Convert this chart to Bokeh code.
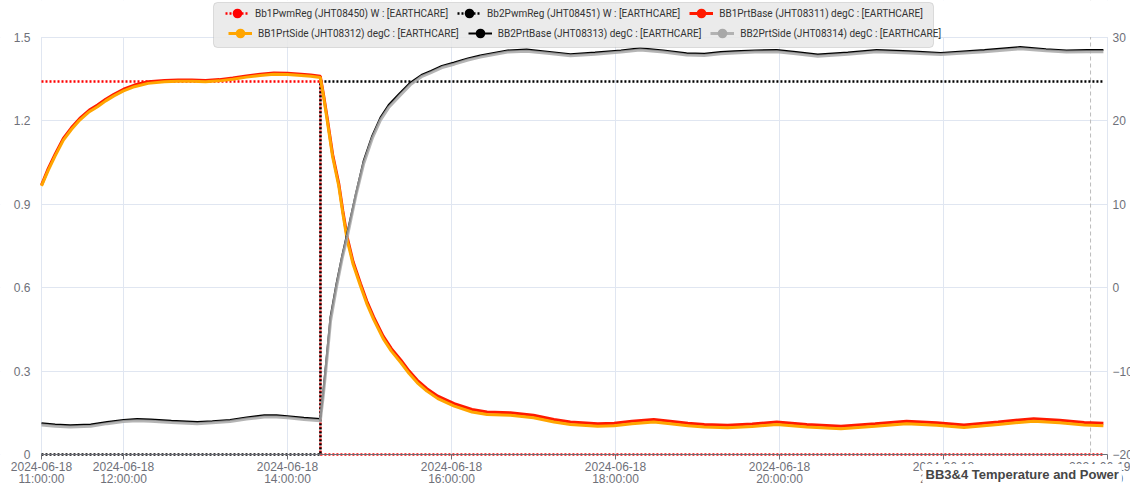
import pandas as pd
from bokeh.plotting import figure
from bokeh.models import (Range1d, LinearAxis, FixedTicker, Legend, LegendItem,
                          BoxAnnotation, Label, Span)
from bokeh.embed import file_html
from bokeh.resources import INLINE

# ---------------- data (minutes after 2024-06-18 11:00:00) ----------------
start = pd.Timestamp("2024-06-18 11:00:00")
axis_end = pd.Timestamp("2024-06-19 00:00:00")

pwm_t = [0, 204.1, 204.1, 777]
bb1_pwm = [1.342, 1.342, 0, 0]
bb2_pwm = [0, 0, 1.342, 1.342]

t_bb1 = [0, 5, 10, 16, 22, 28, 35, 41, 47, 53, 60, 68, 78, 90, 100, 110, 120, 130,
         140, 150, 160, 170, 180, 190, 197, 204, 206.5, 209, 213, 217.5, 220.5, 223.7,
         228, 233.4, 238, 243, 250, 256, 263, 269, 275, 282, 290, 302, 315, 326, 343,
         360, 375, 387, 407, 419, 432, 448, 460, 473, 485, 502, 520, 538, 560, 585,
         610, 633, 655, 675, 700, 726, 745, 763, 777]
bb1_base = [12.3, 14.3, 16.0, 17.9, 19.2, 20.3, 21.3, 21.9, 22.6, 23.2, 23.8, 24.3,
            24.7, 24.85, 24.9, 24.9, 24.85, 24.95, 25.15, 25.4, 25.6, 25.75, 25.7, 25.6,
            25.5, 25.35, 23.0, 20.4, 16.0, 12.5, 9.2, 6.05, 3.1, 0.5, -1.6, -3.5, -5.8,
            -7.3, -8.7, -10.0, -11.1, -12.1, -13.0, -13.9, -14.6, -14.9, -15.0, -15.3,
            -15.8, -16.1, -16.3, -16.25, -16.0, -15.8, -16.0, -16.25, -16.4, -16.5,
            -16.35, -16.1, -16.4, -16.6, -16.3, -16.0, -16.2, -16.45, -16.1, -15.7,
            -15.9, -16.15, -16.25]
bb1_side = [12.2, 14.1, 15.8, 17.7, 19.0, 20.1, 21.1, 21.7, 22.4, 23.0, 23.6, 24.1,
            24.5, 24.7, 24.75, 24.75, 24.7, 24.8, 25.0, 25.25, 25.45, 25.6, 25.55, 25.45,
            25.35, 25.2, 22.8, 20.1, 15.7, 12.2, 8.9, 5.7, 2.8, 0.2, -1.9, -3.8, -6.1,
            -7.6, -9.0, -10.3, -11.4, -12.4, -13.3, -14.2, -14.9, -15.2, -15.3, -15.6,
            -16.1, -16.4, -16.6, -16.55, -16.3, -16.1, -16.3, -16.55, -16.7, -16.8,
            -16.65, -16.4, -16.7, -16.9, -16.6, -16.3, -16.5, -16.75, -16.4, -16.0,
            -16.2, -16.45, -16.55]

t_bb2 = [0, 10, 21, 36, 48, 60, 70, 80, 95, 114, 125, 138, 150, 163, 172, 180, 192,
         204, 206, 208, 211.5, 216, 220, 223.7, 230, 235.8, 242, 248, 254, 258, 262,
         270, 278, 285, 293, 302, 312, 321, 331, 341, 355, 370, 387, 405, 424, 438,
         455, 472, 485, 497, 507, 522, 538, 552, 568, 590, 611, 635, 658, 690, 716,
         735, 750, 765, 777]
bb2_base = [-16.25, -16.4, -16.5, -16.4, -16.1, -15.85, -15.75, -15.8, -15.95, -16.1,
            -16.0, -15.85, -15.55, -15.3, -15.3, -15.4, -15.6, -15.75, -12.8, -9.5,
            -3.5, 0.6, 3.8, 6.5, 11.2, 15.25, 18.2, 20.4, 21.9, 22.6, 23.3, 24.6, 25.5,
            26.0, 26.6, 27.0, 27.5, 27.85, 28.15, 28.45, 28.55, 28.3, 28.0, 28.2, 28.45,
            28.7, 28.45, 28.1, 28.05, 28.25, 28.35, 28.45, 28.5, 28.25, 27.95, 28.2,
            28.5, 28.35, 28.15, 28.5, 28.85, 28.6, 28.45, 28.5, 28.5]
bb2_side = [-16.45, -16.6, -16.7, -16.6, -16.3, -16.05, -15.95, -16.0, -16.15, -16.3,
            -16.2, -16.05, -15.75, -15.5, -15.5, -15.6, -15.8, -15.95, -13.2, -10.0,
            -4.0, 0.2, 3.5, 6.1, 11.0, 14.9, 17.9, 20.1, 21.6, 22.3, 23.0, 24.35, 25.3,
            25.8, 26.4, 26.8, 27.3, 27.65, 27.95, 28.25, 28.35, 28.1, 27.8, 28.0, 28.25,
            28.5, 28.25, 27.9, 27.85, 28.05, 28.15, 28.25, 28.3, 28.05, 27.75, 28.0,
            28.3, 28.15, 27.95, 28.3, 28.65, 28.4, 28.25, 28.3, 28.3]

x_tick_minutes = [0, 60, 180, 300, 420, 540, 660, 780]
left_ticks = [0, 0.3, 0.6, 0.9, 1.2, 1.5]
left_labels = ["0", "0.3", "0.6", "0.9", "1.2", "1.5"]
right_ticks = [-20, -10, 0, 10, 20, 30]
marker_minute = 767.6

names = ["Bb1PwmReg (JHT08450) W : [EARTHCARE]",
         "Bb2PwmReg (JHT08451) W : [EARTHCARE]",
         "BB1PrtBase (JHT08311) degC : [EARTHCARE]",
         "BB1PrtSide (JHT08312) degC : [EARTHCARE]",
         "BB2PrtBase (JHT08313) degC : [EARTHCARE]",
         "BB2PrtSide (JHT08314) degC : [EARTHCARE]"]
colors = ["#ff0000", "#000000", "#ff1a00", "#ffa500", "#000000", "#a8a8a8"]
title_text = "BB3&4 Temperature and Power"

# ---------------- layout constants (pixels) ----------------
W, H = 1130, 485
X_LEFT_PX, X_RIGHT_PX = 41, 1107      # where 11:00 / 24:00 sit
Y_TOP_PX, Y_ZERO_PX = 37, 454         # where 1.5 / 0 (and 30 / -20) sit

FONT = "Liberation Sans"
GREY = "#6E7079"
GRID = "#e0e6f1"


def to_dt(mins):
    return [start + pd.Timedelta(minutes=m) for m in mins]


def to_ms(ts):
    return float((ts - pd.Timestamp("1970-01-01")) // pd.Timedelta(milliseconds=1))


x0_ms, x1_ms = to_ms(start), to_ms(axis_end)
ms_per_px = (x1_ms - x0_ms) / (X_RIGHT_PX - X_LEFT_PX)
xr = Range1d(x0_ms - X_LEFT_PX * ms_per_px, x1_ms + (W - X_RIGHT_PX) * ms_per_px)

ppu_left = (Y_ZERO_PX - Y_TOP_PX) / (left_ticks[-1] - left_ticks[0])
ppu_right = (Y_ZERO_PX - Y_TOP_PX) / (right_ticks[-1] - right_ticks[0])
yl = Range1d(left_ticks[0] - (H - Y_ZERO_PX) / ppu_left, left_ticks[-1] + Y_TOP_PX / ppu_left)
yr = Range1d(right_ticks[0] - (H - Y_ZERO_PX) / ppu_right, right_ticks[-1] + Y_TOP_PX / ppu_right)

p = figure(width=W, height=H, x_axis_type="datetime", x_range=xr, y_range=yl,
           output_backend="svg", toolbar_location=None,
           min_border_left=0, min_border_right=0, min_border_top=0, min_border_bottom=0)
p.outline_line_color = None
p.background_fill_color = "white"
p.border_fill_color = "white"
p.extra_y_ranges = {"temp": yr}

# x axis (drawn at value 0 inside the plot area)
x_ticks = [to_ms(start + pd.Timedelta(minutes=m)) for m in x_tick_minutes]
xa = p.xaxis[0]
xa.fixed_location = 0
xa.bounds = (x0_ms, x1_ms)
xa.ticker = FixedTicker(ticks=x_ticks)
xa.major_label_overrides = {
    t: (start + pd.Timedelta(minutes=m)).strftime("%Y-%m-%d\n%H:%M:%S")
    for t, m in zip(x_ticks, x_tick_minutes)}
xa.axis_line_color = GREY
xa.major_tick_line_color = GREY
xa.major_tick_out = 5
xa.major_tick_in = 0
xa.minor_tick_line_color = None
xa.major_label_standoff = 0
xa.major_label_text_font = FONT
xa.major_label_text_font_size = "12px"
xa.major_label_text_color = GREY
xa.major_label_text_line_height = 0.9

# left axis (at 11:00)
ya = p.yaxis[0]
ya.fixed_location = x0_ms
ya.ticker = FixedTicker(ticks=left_ticks)
ya.major_label_overrides = {float(t): s for t, s in zip(left_ticks, left_labels)}
ya.axis_line_color = None
ya.major_tick_line_color = None
ya.major_tick_out = 0
ya.major_tick_in = 0
ya.minor_tick_line_color = None
ya.major_label_standoff = 11
ya.major_label_text_font = FONT
ya.major_label_text_font_size = "12px"
ya.major_label_text_color = GREY

# right axis (at 24:00)
ra = LinearAxis(y_range_name="temp", ticker=FixedTicker(ticks=right_ticks),
                fixed_location=x1_ms)
ra.axis_line_color = None
ra.major_tick_line_color = None
ra.major_tick_out = 0
ra.major_tick_in = 0
ra.minor_tick_line_color = None
ra.major_label_standoff = 5
ra.major_label_text_font = FONT
ra.major_label_text_font_size = "12px"
ra.major_label_text_color = GREY
p.add_layout(ra, "right")

p.xgrid.grid_line_color = GRID
p.ygrid.grid_line_color = GRID

# dashed time marker
p.add_layout(Span(location=to_ms(start + pd.Timedelta(minutes=marker_minute)),
                  dimension="height", line_color="#bbbbbb", line_width=1,
                  line_dash="4 3", level="underlay"))

# keep grid lines inside the 11:00-24:00 / 0-1.5 area
eps_y, eps_x = 0.002, ms_per_px * 0.5
for l, r, b, t in ((xr.start, xr.end, left_ticks[-1] + eps_y, yl.end),
                   (xr.start, xr.end, yl.start, left_ticks[0] - eps_y),
                   (xr.start, x0_ms - eps_x, yl.start, yl.end),
                   (x1_ms + eps_x, xr.end, yl.start, yl.end)):
    p.add_layout(BoxAnnotation(left=l, right=r, bottom=b, top=t, fill_color="white",
                               fill_alpha=1, line_color=None, level="underlay"))

# series
r_pwm1 = p.line(to_dt(pwm_t), bb1_pwm, line_color=colors[0], line_width=2.5, line_dash="2 2")
r_pwm2 = p.line(to_dt(pwm_t), bb2_pwm, line_color=colors[1], line_width=2.5, line_dash="2 2")
r_b1b = p.line(to_dt(t_bb1), bb1_base, y_range_name="temp", line_color=colors[2], line_width=3)
r_b1s = p.line(to_dt(t_bb1), bb1_side, y_range_name="temp", line_color=colors[3], line_width=3)
r_b2b = p.line(to_dt(t_bb2), bb2_base, y_range_name="temp", line_color=colors[4], line_width=2)
r_b2s = p.line(to_dt(t_bb2), bb2_side, y_range_name="temp", line_color=colors[5], line_width=3,
               line_alpha=0.85)
series = [r_pwm1, r_pwm2, r_b1b, r_b1s, r_b2b, r_b2s]

# zero-size markers on the same data: invisible on the chart, give the legend its dot
dots = [
    p.scatter(to_dt(pwm_t), bb1_pwm, marker="circle", size=0, fill_color=colors[0], line_color=None),
    p.scatter(to_dt(pwm_t), bb2_pwm, marker="circle", size=0, fill_color=colors[1], line_color=None),
    p.scatter(to_dt(t_bb1), bb1_base, y_range_name="temp", marker="circle", size=0,
              fill_color=colors[2], line_color=None),
    p.scatter(to_dt(t_bb1), bb1_side, y_range_name="temp", marker="circle", size=0,
              fill_color=colors[3], line_color=None),
    p.scatter(to_dt(t_bb2), bb2_base, y_range_name="temp", marker="circle", size=0,
              fill_color=colors[4], line_color=None),
    p.scatter(to_dt(t_bb2), bb2_side, y_range_name="temp", marker="circle", size=0,
              fill_color=colors[5], line_color=None),
]

# legend background box (screen units from plot-area bottom-left = page left/bottom)
p.add_layout(BoxAnnotation(left=213, right=933, top=H - 2, bottom=H - 47,
                           left_units="screen", right_units="screen",
                           top_units="screen", bottom_units="screen",
                           fill_color="#e8e8e8", fill_alpha=0.85,
                           line_color="#9a9a9a", line_width=1, border_radius=4))

items = [LegendItem(label=n, renderers=[s, d]) for n, s, d in zip(names, series, dots)]
for row, loc in ((items[:3], (225, H - 25)), (items[3:], (228, H - 45))):
    lg = Legend(items=row, location=loc, orientation="horizontal",
                glyph_width=24, glyph_height=24, label_height=24,
                label_standoff=6, spacing=9, padding=0, margin=0,
                label_text_font="Roboto", label_text_font_size="10px",
                label_text_color="#333333", inactive_fill_alpha=0,
                background_fill_alpha=0, border_line_color=None)
    p.add_layout(lg, "center")

p.add_layout(Label(x=922, y=H - 474, x_units="screen", y_units="screen",
                   text=title_text, text_font=FONT, text_font_size="13px",
                   text_font_style="bold", text_color="#464646",
                   text_baseline="middle", text_align="left",
                   background_fill_color="white", padding=3))

open("out.html", "w").write(file_html(p, INLINE))
